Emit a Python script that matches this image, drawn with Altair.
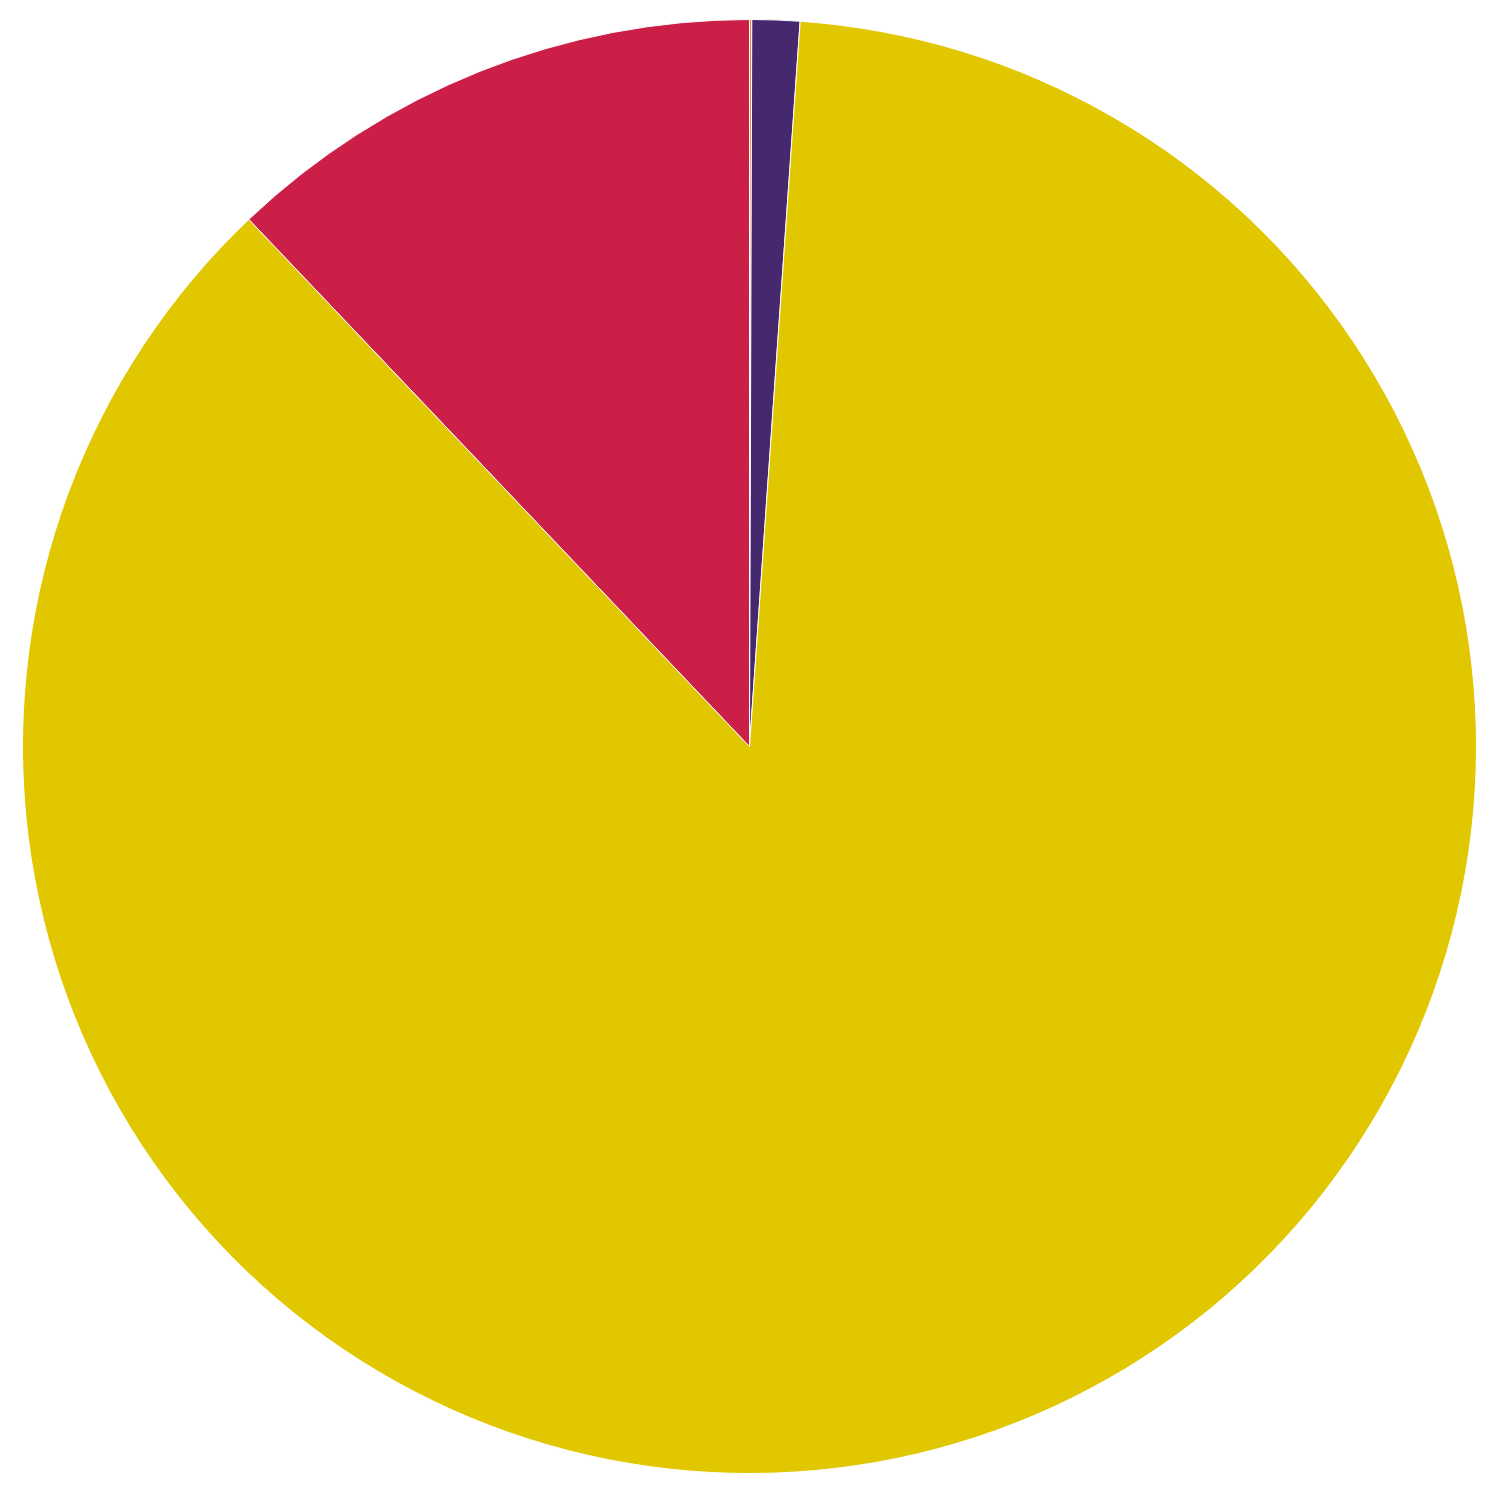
import altair as alt
import pandas as pd

categories = ["A", "B", "C", "D"]
values = [0.05, 1.06, 86.8, 12.09]
colors = ["#F0883A", "#46286F", "#E0C700", "#CC1F47"]

df = pd.DataFrame({"category": categories, "value": values, "order": list(range(len(categories)))})

chart = alt.Chart(df).mark_arc(outerRadius=727, stroke="white", strokeWidth=1).encode(
    theta=alt.Theta("value:Q", stack=True),
    order=alt.Order("order:Q"),
    color=alt.Color("category:N", scale=alt.Scale(domain=categories, range=colors), legend=None),
).properties(width=1473, height=1467, padding=5).configure_view(stroke=None)

chart.save("out.html", embed_options={"renderer": "svg", "actions": False})
